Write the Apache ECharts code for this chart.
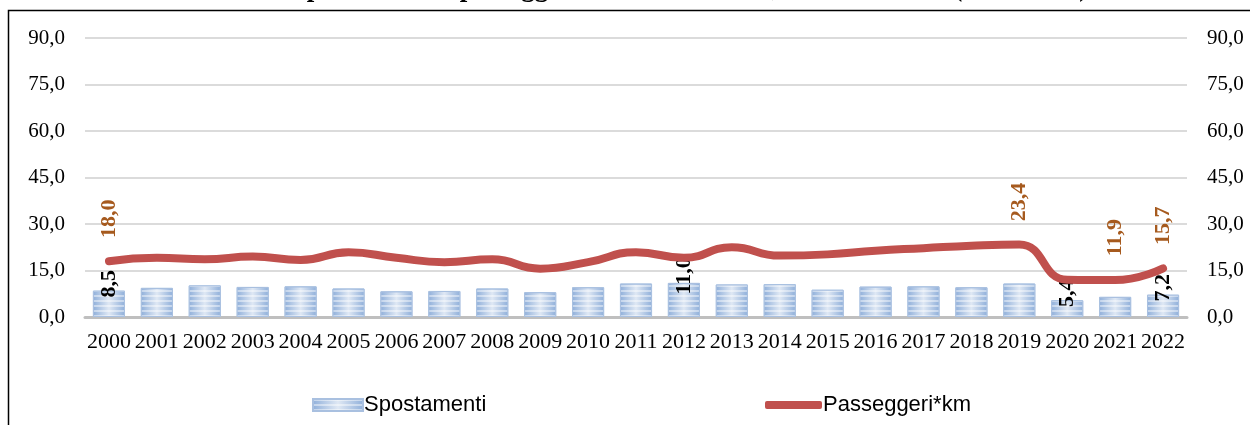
<!DOCTYPE html>
<html>
<head>
<meta charset="utf-8">
<script src="https://cdn.jsdelivr.net/npm/echarts@6/dist/echarts.min.js"></script>
<style>
  html, body { margin: 0; padding: 0; background: #fff; }
  #chart { width: 1250px; height: 425px; }
</style>
</head>
<body>
<div id="chart"></div>
<script>
// categories
const years = ['2000', '2001', '2002', '2003', '2004', '2005', '2006', '2007', '2008', '2009', '2010', '2011',
  '2012', '2013', '2014', '2015', '2016', '2017', '2018', '2019', '2020', '2021', '2022'];

// series values
const spostamenti = [8.5, 9.4, 10.2, 9.7, 9.9, 9.2, 8.3, 8.4, 9.2, 8.0, 9.6, 10.8,
  11.0, 10.5, 10.6, 8.8, 9.8, 9.9, 9.6, 10.8, 5.4, 6.5, 7.2];
const passeggeriKm = [18.0, 19.1, 18.6, 19.5, 18.4, 20.9, 19.1, 17.7, 18.6, 15.6, 17.7, 20.9,
  19.1, 22.5, 19.8, 20.2, 21.4, 22.2, 23.0, 23.4, 12.0, 11.9, 15.7];

// which points carry a value label
const barLabelYears = ['2000', '2012', '2020', '2022'];
const lineLabelYears = ['2000', '2019', '2021', '2022'];

// axis
const yMin = 0, yMax = 90, yStep = 15;

const fmt = v => v.toFixed(1).replace('.', ',');
const serif = "'Liberation Serif', 'DejaVu Serif', serif";

const chart = echarts.init(document.getElementById('chart'));

const barData = spostamenti.map((v, i) => ({
  value: v,
  label: { show: barLabelYears.includes(years[i]) }
}));
const lineData = passeggeriKm.map((v, i) => ({
  value: v,
  label: { show: lineLabelYears.includes(years[i]) }
}));

const yAxisCommon = {
  type: 'value',
  min: yMin,
  max: yMax,
  interval: yStep,
  axisLine: { show: false },
  axisTick: { show: false },
  axisLabel: { formatter: fmt, color: '#000', fontFamily: serif, fontSize: 21, margin: 20 },
  splitLine: { lineStyle: { color: '#d9d9d9', width: 1.5 } }
};

chart.setOption({
  animation: false,
  graphic: [
    {
      type: 'rect',
      shape: { x: 8.5, y: 10.5, width: 1300, height: 500 },
      style: { fill: 'none', stroke: '#000', lineWidth: 1.5 },
      z: -1
    },
    {
      // title sits above the frame and is cut off by the page edge
      type: 'text',
      x: 690,
      y: 3,
      style: {
        text: 'Spostamenti e passeggeri*km in bicicletta, valori assoluti (2000-2022)',
        font: "bold 27px 'Liberation Serif', serif",
        fill: '#000',
        align: 'center',
        verticalAlign: 'bottom'
      }
    }
  ],
  grid: { left: 85, right: 63, top: 38, bottom: 108 },
  legend: [
    {
      data: [{ name: 'Spostamenti', icon: 'rect' }],
      left: 307,
      top: 389,
      itemWidth: 50,
      itemHeight: 12,
      itemGap: 6,
      textStyle: { fontFamily: "'Liberation Sans', sans-serif", fontSize: 22, color: '#000', padding: [0, 0, 0, -4] }
    },
    {
      data: [{ name: 'Passeggeri*km', icon: 'roundRect' }],
      left: 760,
      top: 389,
      itemWidth: 57,
      itemHeight: 8,
      itemGap: 6,
      textStyle: { fontFamily: "'Liberation Sans', sans-serif", fontSize: 22, color: '#000', padding: [0, 0, 0, -4] }
    }
  ],
  xAxis: {
    type: 'category',
    data: years,
    axisLine: { lineStyle: { color: '#bfbfbf', width: 3 } },
    axisTick: { show: false },
    axisLabel: { interval: 0, color: '#000', fontFamily: serif, fontSize: 22, margin: 14 }
  },
  yAxis: [yAxisCommon, Object.assign({}, yAxisCommon, { position: 'right' })],
  series: [
    {
      name: 'Spostamenti',
      type: 'bar',
      data: barData,
      barCategoryGap: '33%',
      itemStyle: {
        color: {
          type: 'linear', x: 0, y: 0, x2: 1, y2: 0,
          colorStops: [
            { offset: 0, color: '#8fafda' },
            { offset: 0.5, color: '#dfe8f4' },
            { offset: 1, color: '#8fafda' }
          ]
        },
        borderColor: '#a9c0e0',
        borderWidth: 1,
        decal: {
          symbol: 'rect',
          symbolSize: 1,
          dashArrayX: [1, 0],
          dashArrayY: [2, 3],
          rotation: 0,
          color: 'rgba(255,255,255,0.45)'
        }
      },
      label: {
        position: 'top',
        distance: 7,
        rotate: 90,
        align: 'center',
        verticalAlign: 'middle',
        formatter: p => fmt(p.value),
        color: '#000',
        fontFamily: serif,
        fontWeight: 'bold',
        fontSize: 22
      }
    },
    {
      name: 'Passeggeri*km',
      type: 'line',
      yAxisIndex: 0,
      data: lineData,
      smooth: 0.5,
      symbol: 'circle',
      symbolSize: 1,
      showAllSymbol: true,
      lineStyle: { color: '#c0504d', width: 8, cap: 'round' },
      itemStyle: { color: '#c0504d' },
      label: {
        position: 'top',
        distance: 42,
        rotate: 90,
        align: 'center',
        verticalAlign: 'middle',
        formatter: p => fmt(p.value),
        color: '#a65a1e',
        fontFamily: serif,
        fontWeight: 'bold',
        fontSize: 22
      }
    }
  ]
});
</script>
</body>
</html>
